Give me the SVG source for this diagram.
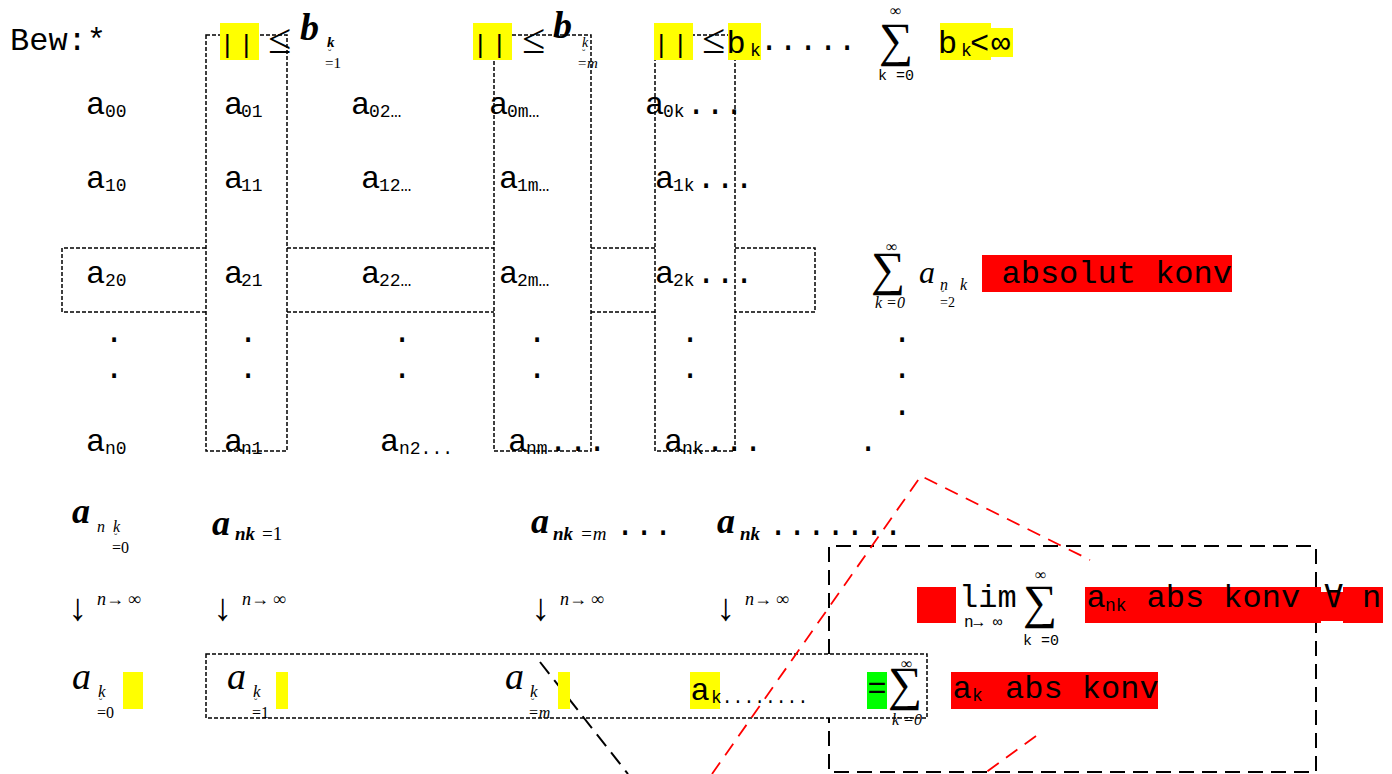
<svg xmlns="http://www.w3.org/2000/svg" width="1392" height="774" viewBox="0 0 1392 774">
<style>
text{fill:#000}
.m{font-family:"Liberation Mono","DejaVu Sans Mono",monospace;font-size:32px}
.ms{font-family:"Liberation Mono","DejaVu Sans Mono",monospace;font-size:18px}
.mt{font-family:"Liberation Mono","DejaVu Sans Mono",monospace;font-size:15px}
.s{font-family:"Liberation Serif","DejaVu Serif",serif}
.bi{font-weight:bold;font-style:italic}
.i{font-style:italic}
.sig{font-family:"Liberation Serif","DejaVu Serif",serif;font-size:48px}
.ar{font-family:"Liberation Serif","DejaVu Serif",serif;font-size:38px}
.d{fill:none;stroke:#000;stroke-width:1.5;stroke-dasharray:4 2}
.D{fill:none;stroke:#000;stroke-width:2;stroke-dasharray:15 8}
.r{fill:none;stroke:#f00;stroke-width:1.8;stroke-dasharray:14 9}
.y{fill:#ff0}
.red{fill:#f00}
.g{fill:#0f0}
</style>
<rect width="1392" height="774" fill="#fff"/>

<g id="connectors">
  <rect class="d" x="206" y="35" width="81" height="416"/>
  <rect class="d" x="494" y="35" width="97" height="416"/>
  <rect class="d" x="655" y="35" width="80" height="416"/>
  <path class="d" d="M206,248 H62 V312 H206 M287,248 H494 M287,312 H494 M591,248 H655 M591,312 H655 M735,248 H815 V312 H735"/>
  <rect class="d" x="206" y="654" width="721" height="64"/>
  <path class="D" d="M829,654 V546 H1316 V772 H829 V718"/>
  <path class="D" d="M540,662 L628,774"/>
  <path class="r" d="M712,774 L921,476 L1090,560"/>
  <path class="r" d="M1036,736 L985,773"/>
</g>

<g id="header">
  <text class="m" x="10" y="50">Bew:*</text>
  <rect class="y" x="220" y="23" width="39" height="37"/>
  <text class="m" x="219.4 238.4" y="53" style="font-size:26px">||</text>
  <text class="s" x="268" y="53" style="font-size:42px">≤</text>
  <text class="s bi" x="300" y="40" style="font-size:38px">b</text>
  <text class="s bi" x="327" y="47" style="font-size:15px">k</text>
  <text class="s" x="328" y="57" style="font-size:10px">˘</text>
  <text class="s" x="325" y="68" style="font-size:15px">=1</text>

  <rect class="y" x="473" y="23" width="39" height="37"/>
  <text class="m" x="472.4 491.4" y="53" style="font-size:26px">||</text>
  <text class="s" x="522" y="53" style="font-size:42px">≤</text>
  <text class="s bi" x="553" y="38" style="font-size:38px">b</text>
  <text class="s i" x="582" y="47" style="font-size:14px">k</text>
  <text class="s" x="582" y="57" style="font-size:10px">˘</text>
  <text class="s i" x="577" y="68" style="font-size:15px">=m</text>

  <rect class="y" x="654" y="23" width="39" height="37"/>
  <text class="m" x="653.4 672.4" y="53" style="font-size:26px">||</text>
  <text class="s" x="702" y="53" style="font-size:42px">≤</text>
  <rect class="y" x="728" y="23" width="33" height="37"/>
  <text class="m" x="726.5" y="53">b</text>
  <text class="ms" x="750" y="56">k</text>
  <text class="m" x="759.4 778.4 798.4 818.4 837.4" y="50">.....</text>

  <text class="sig" x="879" y="56">∑</text>
  <text class="s" x="890" y="16" style="font-size:16px">∞</text>
  <text class="mt" x="878" y="80">k =0</text>

  <rect class="y" x="940" y="23" width="51" height="37"/>
  <rect class="y" x="991" y="28" width="22" height="29"/>
  <text class="m" x="938" y="53">b</text>
  <text class="ms" x="961" y="56">k</text>
  <text class="m" x="970" y="53">&lt;</text>
  <text class="m" x="991" y="53">∞</text>
</g>

<g id="matrix">
  <text class="m" x="86" y="114">a</text><text class="ms" x="105" y="117">00</text>
  <text class="m" x="224" y="114">a</text><text class="ms" x="241" y="117">01</text>
  <text class="m" x="351" y="114">a</text><text class="ms" x="369" y="117">02…</text>
  <text class="m" x="489" y="114">a</text><text class="ms" x="507" y="117">0m…</text>
  <text class="m" x="645" y="114">a</text><text class="ms" x="663" y="117">0k</text>
  <text class="m" x="686.4 705.4 724.4" y="114">...</text>

  <text class="m" x="86" y="188">a</text><text class="ms" x="105" y="191">10</text>
  <text class="m" x="224" y="188">a</text><text class="ms" x="241" y="191">11</text>
  <text class="m" x="361" y="188">a</text><text class="ms" x="379" y="191">12…</text>
  <text class="m" x="499" y="188">a</text><text class="ms" x="517" y="191">1m…</text>
  <text class="m" x="655" y="188">a</text><text class="ms" x="673" y="191">1k</text>
  <text class="m" x="696.4 715.4 734.4" y="188">...</text>

  <text class="m" x="86" y="283">a</text><text class="ms" x="105" y="286">20</text>
  <text class="m" x="224" y="283">a</text><text class="ms" x="241" y="286">21</text>
  <text class="m" x="361" y="283">a</text><text class="ms" x="379" y="286">22…</text>
  <text class="m" x="499" y="283">a</text><text class="ms" x="517" y="286">2m…</text>
  <text class="m" x="655" y="283">a</text><text class="ms" x="673" y="286">2k</text>
  <text class="m" x="696.4 715.4 734.4" y="283">...</text>

  <text class="m" x="104.4 238.4 392.4 527.4 680.4 892.4" y="342">......</text>
  <text class="m" x="104.4 238.4 392.4 527.4 680.4 892.4" y="378">......</text>
  <text class="m" x="892.4" y="415">.</text>

  <text class="m" x="86" y="451">a</text><text class="ms" x="105" y="454">n0</text>
  <text class="m" x="224" y="451">a</text><text class="ms" x="241" y="454">n1</text>
  <text class="m" x="380" y="451">a</text><text class="ms" x="399" y="454">n2...</text>
  <text class="m" x="508" y="451">a</text><text class="ms" x="526" y="454">nm</text>
  <text class="m" x="548.4 568.4 587.4" y="451">...</text>
  <text class="m" x="664" y="451">a</text><text class="ms" x="682" y="454">nk</text>
  <text class="m" x="705.4 724.4 743.4" y="451">...</text>
  <text class="m" x="858.4" y="451">.</text>
</g>

<g id="row-sum">
  <text class="sig" x="871" y="285">∑</text>
  <text class="s" x="886" y="252" style="font-size:16px">∞</text>
  <text class="s i" x="875" y="308" style="font-size:16px">k =0</text>
  <text class="s i" x="919" y="283" style="font-size:32px">a</text>
  <text class="s i" x="940" y="290" style="font-size:16px">n</text>
  <text class="s i" x="960" y="290" style="font-size:16px">k</text>
  <text class="s" x="941" y="298" style="font-size:10px">˘</text>
  <text class="s" x="940" y="307" style="font-size:14px">=2</text>
  <rect class="red" x="982" y="255" width="250" height="37"/>
  <text class="m" x="982.3" y="283" xml:space="preserve"> absolut konv</text>
</g>

<g id="limits">
  <text class="s bi" x="72" y="523" style="font-size:36px">a</text>
  <text class="s i" x="97" y="532" style="font-size:16px">n</text>
  <text class="s i" x="113" y="532" style="font-size:16px">k</text>
  <text class="s" x="114" y="541" style="font-size:10px">˘</text>
  <text class="s" x="112" y="553" style="font-size:16px">=0</text>

  <text class="s bi" x="212" y="535" style="font-size:36px">a</text>
  <text class="s bi" x="235" y="540" style="font-size:19px">nk</text>
  <text class="s" x="262" y="540" style="font-size:19px">=1</text>

  <text class="s bi" x="531" y="533" style="font-size:36px">a</text>
  <text class="s bi" x="553" y="540" style="font-size:19px">nk</text>
  <text class="s i" x="580" y="540" style="font-size:19px">=m</text>
  <text class="m" x="615.4 634.4 653.4" y="535">...</text>

  <text class="s bi" x="717" y="533" style="font-size:36px">a</text>
  <text class="s bi" x="740" y="540" style="font-size:19px">nk</text>
  <text class="m" x="768.4 787.6 806.8 826 845.2 864.4 883.6" y="535">.......</text>

  <text class="ar" x="68" y="620">↓</text>
  <text class="s i" x="97" y="605" style="font-size:18px">n→ ∞</text>
  <text class="ar" x="213" y="620">↓</text>
  <text class="s i" x="242" y="605" style="font-size:18px">n→ ∞</text>
  <text class="ar" x="531" y="620">↓</text>
  <text class="s i" x="560" y="605" style="font-size:18px">n→ ∞</text>
  <text class="ar" x="716" y="620">↓</text>
  <text class="s i" x="745" y="605" style="font-size:18px">n→ ∞</text>
</g>

<g id="bottom-row">
  <text class="s i" x="72" y="689" style="font-size:38px">a</text>
  <text class="s i" x="98" y="697" style="font-size:17px">k</text>
  <text class="s" x="99" y="706" style="font-size:10px">˘</text>
  <text class="s" x="97" y="718" style="font-size:16px">=0</text>
  <rect class="y" x="123" y="672" width="20" height="37"/>

  <text class="s i" x="227" y="689" style="font-size:38px">a</text>
  <text class="s i" x="253" y="697" style="font-size:17px">k</text>
  <text class="s" x="254" y="706" style="font-size:10px">˘</text>
  <text class="s" x="252" y="718" style="font-size:16px">=1</text>
  <rect class="y" x="276" y="672" width="12" height="37"/>

  <text class="s i" x="505" y="689" style="font-size:38px">a</text>
  <text class="s i" x="530" y="697" style="font-size:17px">k</text>
  <text class="s" x="531" y="706" style="font-size:10px">˘</text>
  <text class="s i" x="528" y="718" style="font-size:16px">=m</text>
  <rect class="y" x="558" y="672" width="12" height="37"/>

  <rect class="y" x="690" y="672" width="30" height="37"/>
  <text class="m" x="690.5" y="700">a</text>
  <text class="ms" x="711" y="703">k........</text>

  <rect class="g" x="867" y="672" width="20" height="37"/>
  <text class="m" x="867.5" y="698">=</text>
  <text class="sig" x="888" y="700">∑</text>
  <text class="s" x="901" y="669" style="font-size:16px">∞</text>
  <text class="s i" x="892" y="725" style="font-size:16px">k =0</text>

  <rect class="red" x="951" y="672" width="207" height="37"/>
  <text class="m" x="952.5" y="698">a</text>
  <text class="ms" x="972" y="701">k</text>
  <text class="m" x="1005" y="698">abs konv</text>
</g>

<g id="lim-row">
  <rect class="red" x="917" y="587" width="39" height="36"/>
  <text class="m" x="959" y="607">lim</text>
  <text class="mt" x="964" y="627" style="font-size:16px">n→ ∞</text>
  <text class="sig" x="1023" y="618">∑</text>
  <text class="s" x="1035" y="580" style="font-size:16px">∞</text>
  <text class="mt" x="1023" y="645">k =0</text>
  <rect class="red" x="1085" y="587" width="236" height="36"/>
  <rect class="red" x="1320" y="592" width="24" height="29"/>
  <rect class="red" x="1343" y="587" width="40" height="36"/>
  <text class="m" x="1086.5" y="607">a</text>
  <text class="ms" x="1105" y="611">nk</text>
  <text class="m" x="1146.5" y="607">abs konv</text>
  <text class="m" x="1324" y="607">∀</text>
  <text class="m" x="1362" y="607">n</text>
</g>
</svg>
